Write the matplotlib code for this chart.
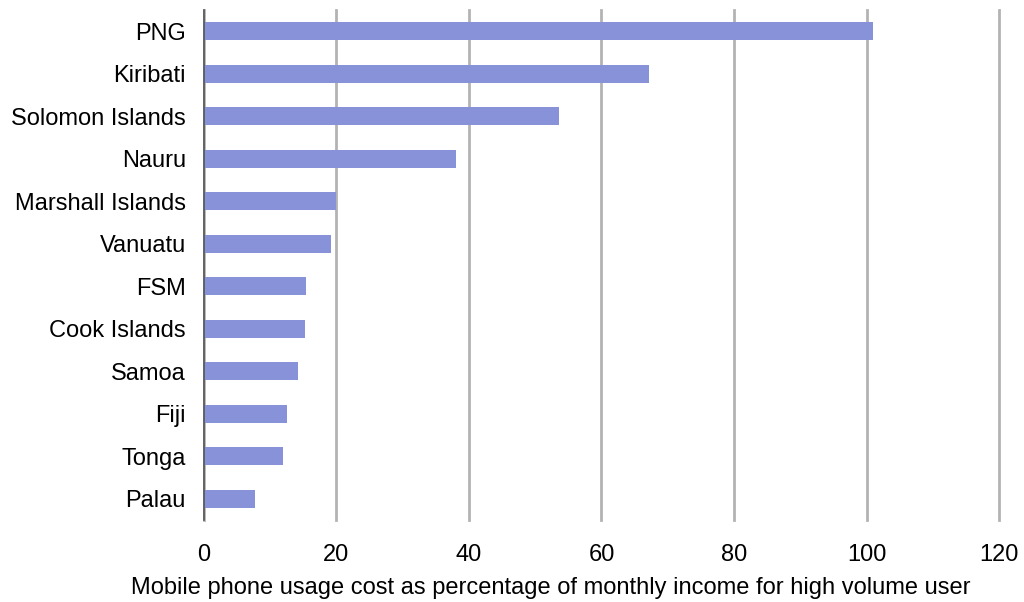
import matplotlib
matplotlib.use("Agg")
import matplotlib.pyplot as plt

# mobile cost as % of monthly income, high volume user
paises = ["PNG", "Kiribati", "Solomon Islands", "Nauru", "Marshall Islands",
          "Vanuatu", "FSM", "Cook Islands", "Samoa", "Fiji", "Tonga", "Palau"]
costo = [101.0, 67.2, 53.6, 38.0, 19.9, 19.2, 15.4, 15.2, 14.2, 12.5, 11.9, 7.7]

plt.rcParams['font.family'] = ['Liberation Sans', 'DejaVu Sans']

fig = plt.figure(figsize=(10.24, 6.02), dpi=100)
ax = fig.add_axes([0.1992, 0.1362, 0.7764, 0.8472])

pos = list(range(len(paises)))[::-1]
ax.barh(pos, costo, height=0.42, color='#8892d9', zorder=3)

ax.set_xlim(0, 120)
ax.set_ylim(-0.5, len(paises) - 0.5)
ax.set_xticks([0, 20, 40, 60, 80, 100, 120])
ax.set_yticks(pos)
ax.set_yticklabels(paises)
ax.xaxis.grid(True, color='#b3b3b3', linewidth=2, zorder=0)
for g in ax.get_xgridlines():
    g.set_clip_on(False)

for s in ['top', 'right', 'bottom']:
    ax.spines[s].set_visible(False)
ax.spines['left'].set_color('#555555')
ax.spines['left'].set_linewidth(1.2)
ax.spines['left'].set_zorder(4)

ax.tick_params(axis='both', length=0, labelsize=17, colors='black')
ax.tick_params(axis='x', pad=17)
ax.tick_params(axis='y', pad=13)
ax.set_xlabel("Mobile phone usage cost as percentage of monthly income for high volume user",
              fontsize=17, labelpad=8)
ax.xaxis.label.set_x(0.4365)

fig.savefig("out.png", dpi=100)
